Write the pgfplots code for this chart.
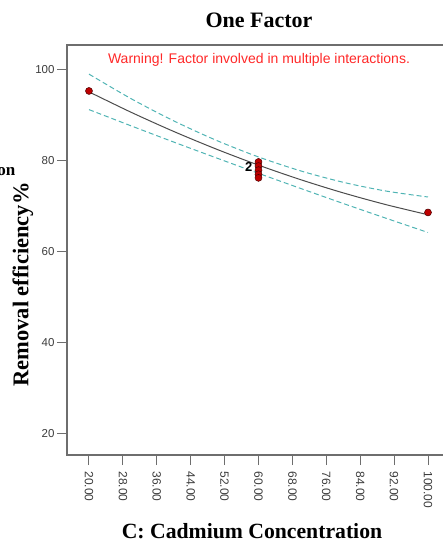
\documentclass[border=0pt]{standalone}
\usepackage{fontspec}
\setmainfont{Liberation Serif}
\newfontfamily\arial{Liberation Sans}
\usepackage{pgfplots}
\pgfplotsset{compat=1.18}
\definecolor{band}{RGB}{80,180,180}
\definecolor{dotred}{RGB}{190,0,0}
\definecolor{warn}{RGB}{255,40,40}
\definecolor{axgray}{RGB}{110,110,110}
\definecolor{ticktxt}{RGB}{60,60,60}
\begin{document}
\begin{tikzpicture}[x=1pt,y=1pt]
\begin{axis}[
  at={(67pt,-455pt)}, anchor=south west,
  scale only axis, width=386pt, height=410pt,
  xmin=14.81, xmax=105.9, ymin=15.2, ymax=105.3,
  xtick={20,28,...,100}, ytick={20,40,60,80,100},
  tick align=outside, major tick length=10pt,
  tick style={axgray, line width=1pt},
  axis line style={axgray, line width=1.2pt},
  xtick pos=bottom, ytick pos=left,
  /pgf/number format/assume math mode=true,
  xticklabel={\pgfmathprintnumber[fixed,fixed zerofill,precision=2]{\tick}},
  yticklabel={\pgfmathprintnumber[fixed,precision=0]{\tick}},
  xticklabel style={rotate=-90, anchor=west, font=\arial\fontsize{12}{12}\selectfont, text=ticktxt, xshift=3pt},
  yticklabel style={font=\arial\fontsize{11.5}{11.5}\selectfont, text=ticktxt, xshift=1pt},
  clip=false,
]
\addplot[band, dashed, line width=1pt, dash pattern=on 5pt off 3pt, smooth] coordinates {
 (20,98.9) (30,93.47) (40,88.63) (50,84.37) (60,80.7) (70,77.62) (80,75.13) (90,73.22) (100,71.9)};
\addplot[band, dashed, line width=1pt, dash pattern=on 5pt off 3pt, smooth] coordinates {
 (20,91.1) (30,87.51) (40,83.97) (50,80.51) (60,77.1) (70,73.76) (80,70.47) (90,67.26) (100,64.1)};
\addplot[black!70, line width=1pt, smooth] coordinates {
 (20,95.0) (30,90.49) (40,86.30) (50,82.44) (60,78.9) (70,75.69) (80,72.80) (90,70.24) (100,68.0)};
\addplot[only marks, mark=*, mark size=3.5pt, mark options={fill=dotred, draw=black!60!dotred, line width=0.5pt}] coordinates {
 (20,95.2) (60,79.6) (60,78.7) (60,77.8) (60,76.9) (60,76.1) (100,68.5)};
\node[font=\arial\bfseries\fontsize{13}{13}\selectfont, anchor=east] at (axis cs:59.4,78.4) {2};
\end{axis}
\node[font=\bfseries\fontsize{22}{22}\selectfont] at (259,-20) {One Factor};
\node[font=\arial\fontsize{14}{14}\selectfont, text=warn] at (259,-60) {Warning! Factor involved in multiple interactions.};
\node[font=\bfseries\fontsize{21.7}{21.7}\selectfont] at (252,-531) {C: Cadmium Concentration};
\node[font=\bfseries\fontsize{22.5}{22.5}\selectfont, rotate=90] at (23,-284.5) {Removal efficiency\%};
\node[font=\bfseries\fontsize{17}{17}\selectfont, anchor=base east, inner sep=0pt] at (15.5,-175) {on};
\pgfresetboundingbox
\path[use as bounding box] (0,0) rectangle (443,-543);
\end{tikzpicture}
\end{document}
